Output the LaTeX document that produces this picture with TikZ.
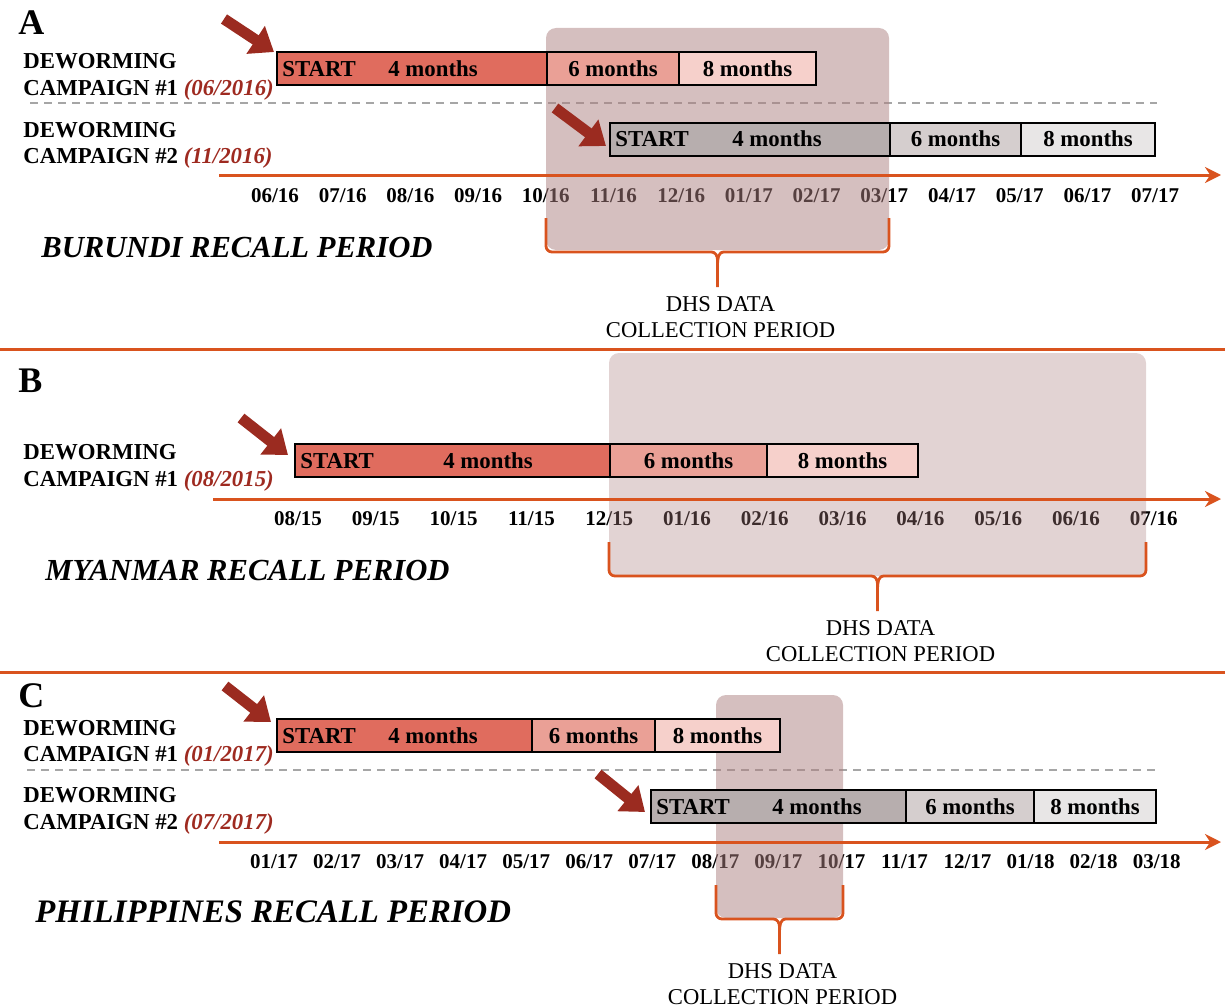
\documentclass[tikz,border=0pt]{standalone}
\usepackage{fontspec}
\setmainfont{Liberation Serif}
\usetikzlibrary{arrows.meta}
\definecolor{lineorange}{RGB}{217,83,30}
\definecolor{arrowred}{RGB}{155,43,32}
\definecolor{datered}{RGB}{158,42,32}
\definecolor{redfour}{RGB}{224,108,94}
\definecolor{redsix}{RGB}{234,160,150}
\definecolor{redeight}{RGB}{246,208,203}
\definecolor{grayfour}{RGB}{183,174,174}
\definecolor{graysix}{RGB}{213,206,206}
\definecolor{grayeight}{RGB}{232,230,230}
\definecolor{dhsshade}{RGB}{172,128,128}
\tikzset{
  panel-letter/.style={anchor=base west, inner sep=0pt, font=\fontsize{18}{20}\selectfont\bfseries},
  camp-label/.style={anchor=base west, inner sep=0pt, font=\fontsize{11.4}{13}\selectfont\bfseries},
  month-label/.style={anchor=base, inner sep=0pt, font=\fontsize{10.5}{12}\selectfont\bfseries},
  bar-text/.style={inner sep=0pt, font=\fontsize{11.4}{13}\selectfont\bfseries},
  recall-title/.style={anchor=base west, inner sep=0pt, font=\fontsize{15.3}{17}\selectfont\bfseries\itshape},
  dhs-text/.style={anchor=base, inner sep=0pt, font=\fontsize{11.3}{13}\selectfont},
  bar-line/.style={draw=black, line width=0.8pt},
  start-arrow/.style={arrowred, line width=5.5pt, -{Triangle[length=11pt,width=16pt]}},
  time-axis/.style={lineorange, line width=1.5pt, -{Stealth[length=8pt,width=8pt]}},
  panel-rule/.style={lineorange, line width=1.5pt},
  split-line/.style={gray!70, line width=1pt, dash pattern=on 4pt off 3pt},
  dhs-shade/.style={fill=dhsshade, fill opacity=0.5, rounded corners=5pt},
  dhs-brace/.style={lineorange, line width=1.4pt, rounded corners=3pt}
}
\newcommand{\campdate}[1]{\textcolor{datered}{\itshape #1}}
% name, top y, start x, end of 4/6/8 months, colour set, x of "4 months"
\newcommand{\campaignbar}[8]{
  \draw[bar-line, fill=#7four] (#3,#2) rectangle (#4,#2+33);
  \draw[bar-line, fill=#7six] (#4,#2) rectangle (#5,#2+33);
  \draw[bar-line, fill=#7eight] (#5,#2) rectangle (#6,#2+33);
  \coordinate (#1) at (#3,#2);
  \node[bar-text, anchor=base west] (#1-start) at (#3+5,#2+24) {START};
  \node[bar-text, anchor=base] (#1-four) at (#8,#2+24) {4 months};
  \node[bar-text, anchor=base] (#1-six) at ({(#4+#5)/2},#2+24) {6 months};
  \node[bar-text, anchor=base] (#1-eight) at ({(#5+#6)/2},#2+24) {8 months};
}
% prefix, left x, right x, top of the arms
\newcommand{\dhsbrace}[4]{
  \pgfmathsetmacro\bracemid{(#2+#3)/2}
  \draw[dhs-brace] (#2,#4) -- (#2,#4+34) -- (\bracemid-12,#4+34)
    .. controls (\bracemid-2,#4+34) and (\bracemid,#4+38) .. (\bracemid,#4+48) -- (\bracemid,#4+69);
  \draw[dhs-brace] (#3,#4) -- (#3,#4+34) -- (\bracemid+12,#4+34)
    .. controls (\bracemid+2,#4+34) and (\bracemid,#4+38) .. (\bracemid,#4+48);
  \node[dhs-text] (#1-dhs) at (\bracemid+3,#4+93) {DHS DATA};
  \node[dhs-text] (#1-collect) at (\bracemid+3,#4+119) {COLLECTION PERIOD};
}

\begin{document}
\begin{tikzpicture}[x=0.5pt,y=-0.5pt]
  \useasboundingbox (0,0) rectangle (1225,1006);

  % Panel A
  \node[panel-letter] (a-letter) at (18,35) {A};
  \node[camp-label] (a-c1-name) at (23,69) {DEWORMING};
  \node[camp-label] (a-c1-date) at (23,96) {CAMPAIGN \#1 \campdate{(06/2016)}};
  \node[camp-label] (a-c2-name) at (23,137) {DEWORMING};
  \node[camp-label] (a-c2-date) at (23,163) {CAMPAIGN \#2 \campdate{(11/2016)}};
  \draw[split-line] (30,103) -- (1157,103);
  \foreach \m/\y [count=\k from 0] in {06/16,07/16,08/16,09/16,10/16,11/16,12/16,01/17,02/17,03/17,04/17,05/17,06/17,07/17}
    \node[month-label] (a-m\k) at ({275+67.7*\k},202) {\m/\y};
  \fill[dhs-shade] (546,28) rectangle (889,250);
  \draw[time-axis] (219,175) -- (1221,175);
  \campaignbar{a-c1}{52}{277}{547}{679}{816}{red}{433}
  \campaignbar{a-c2}{123}{610}{890}{1021}{1155}{gray}{777}
  \coordinate (a-c1-tail) at (224,19);
  \coordinate (a-c2-tail) at (555,108);
  \draw[start-arrow] (a-c1-tail) -- ([shift={(-3,0)}]a-c1);
  \draw[start-arrow] (a-c2-tail) -- ([shift={(-4,23)}]a-c2);
  \dhsbrace{a}{546}{889}{218}
  \node[recall-title] (a-title) at (41,257) {BURUNDI RECALL PERIOD};
  \draw[panel-rule] (0,349) -- (1225,349);

  % Panel B
  \node[panel-letter] (b-letter) at (18,392) {B};
  \node[camp-label] (b-c1-name) at (23,459) {DEWORMING};
  \node[camp-label] (b-c1-date) at (23,486) {CAMPAIGN \#1 \campdate{(08/2015)}};
  \foreach \m/\y [count=\k from 0] in {08/15,09/15,10/15,11/15,12/15,01/16,02/16,03/16,04/16,05/16,06/16,07/16}
    \node[month-label] (b-m\k) at ({298+77.8*\k},525) {\m/\y};
  \fill[dhs-shade, fill opacity=0.35] (609,353) rectangle (1146,576);
  \draw[time-axis] (213,499) -- (1221,499);
  \campaignbar{b-c1}{444}{295}{610}{767}{918}{red}{488}
  \coordinate (b-c1-tail) at (241,418);
  \draw[start-arrow] (b-c1-tail) -- ([shift={(-7,11)}]b-c1);
  \dhsbrace{b}{609}{1146}{542}
  \node[recall-title] (b-title) at (45,580) {MYANMAR RECALL PERIOD};
  \draw[panel-rule] (0,672) -- (1225,672);

  % Panel C
  \node[panel-letter] (c-letter) at (18,707) {C};
  \node[camp-label] (c-c1-name) at (23,735) {DEWORMING};
  \node[camp-label] (c-c1-date) at (23,761) {CAMPAIGN \#1 \campdate{(01/2017)}};
  \node[camp-label] (c-c2-name) at (23,802) {DEWORMING};
  \node[camp-label] (c-c2-date) at (23,829) {CAMPAIGN \#2 \campdate{(07/2017)}};
  \draw[split-line] (27,770) -- (1157,770);
  \foreach \m/\y [count=\k from 0] in {01/17,02/17,03/17,04/17,05/17,06/17,07/17,08/17,09/17,10/17,11/17,12/17,01/18,02/18,03/18}
    \node[month-label] (c-m\k) at ({274+63.05*\k},868) {\m/\y};
  \fill[dhs-shade] (716,695) rectangle (843,918);
  \draw[time-axis] (219,842) -- (1221,842);
  \campaignbar{c-c1}{719}{277}{532}{655}{780}{red}{433}
  \campaignbar{c-c2}{790}{651}{906}{1034}{1156}{gray}{817}
  \coordinate (c-c1-tail) at (225,686);
  \coordinate (c-c2-tail) at (598,774);
  \draw[start-arrow] (c-c1-tail) -- ([shift={(-6,3)}]c-c1);
  \draw[start-arrow] (c-c2-tail) -- ([shift={(-6,22)}]c-c2);
  \dhsbrace{c}{716}{843}{885}
  \node[recall-title, font=\fontsize{16.4}{18}\selectfont\bfseries\itshape] (c-title) at (35,922) {PHILIPPINES RECALL PERIOD};
\end{tikzpicture}
\end{document}
